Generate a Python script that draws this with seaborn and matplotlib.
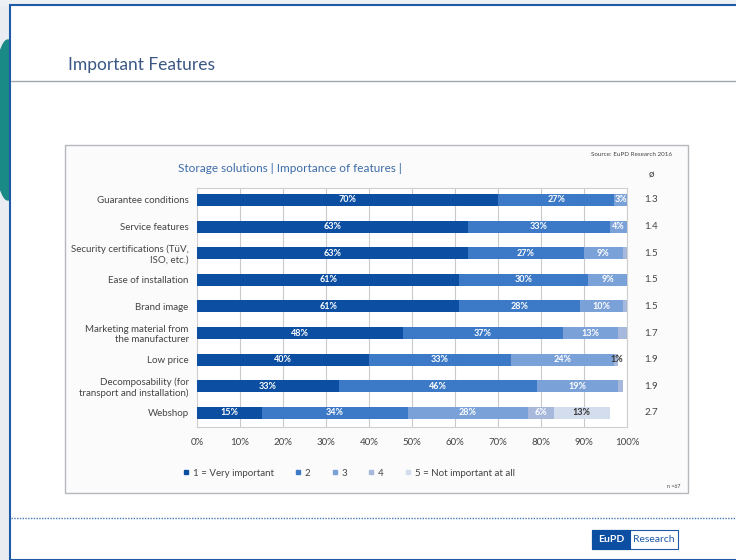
import pandas as pd
import matplotlib.pyplot as plt
import matplotlib.patches as mpatches
from matplotlib.lines import Line2D
from matplotlib.transforms import blended_transform_factory
import seaborn as sns

# data (share of answers per importance level, %)
features = ['Guarantee conditions', 'Service features', 'Security certifications (TüV,\nISO, etc.)',
            'Ease of installation', 'Brand image', 'Marketing material from\nthe manufacturer',
            'Low price', 'Decomposability (for\ntransport and installation)', 'Webshop']
level1 = [70, 63, 63, 61, 61, 48, 40, 33, 15]
level2 = [27, 33, 27, 30, 28, 37, 33, 46, 34]
level3 = [3, 4, 9, 9, 10, 13, 24, 19, 28]
level4 = [0, 0, 1, 0, 1, 2, 1, 1, 6]
level5 = [0, 0, 0, 0, 0, 0, 0, 0, 13]
averages = ['1.3', '1.4', '1.5', '1.5', '1.5', '1.7', '1.9', '1.9', '2.7']
level_names = ['1 = Very important', '2', '3', '4', '5 = Not important at all']
ticks = [0, 10, 20, 30, 40, 50, 60, 70, 80, 90, 100]
show_small = ['Low price']

colors = ['#0b4ea2', '#3c79c6', '#7aa2d9', '#a6b9dc', '#d4dded']
levels = [level1, level2, level3, level4, level5]

sns.set_theme(style='white')
plt.rcParams['font.family'] = ['Lato', 'DejaVu Sans']

fig = plt.figure(figsize=(7.36, 5.6), dpi=100)
W, H = 736, 560


def fx(px):
    return px / W


def fy(py):
    return 1 - py / H


# slide background bits
fig.patches.append(mpatches.Rectangle((0, 0), fx(10), 1, transform=fig.transFigure,
                                      color='#e9edf1', zorder=0))
fig.patches.append(mpatches.Rectangle((0, fy(5)), 1, fy(0) - fy(5), transform=fig.transFigure,
                                      color='#eef1f4', zorder=0))
fig.patches.append(mpatches.Ellipse((fx(8), fy(120)), fx(30), fy(40) - fy(200), transform=fig.transFigure,
                                    color='#1a8a86', zorder=0))
fig.patches.append(mpatches.Rectangle((fx(10), 0), 1, fy(5), transform=fig.transFigure,
                                      facecolor='white', edgecolor='#1f5aa6', lw=1.5, zorder=1))

# slide title and rules
fig.text(fx(68), fy(65), 'Important Features', fontsize=12.5, color='#3a5784',
         family=['Liberation Sans Narrow', 'Lato'], va='center', zorder=3)
fig.add_artist(Line2D([fx(11), 1], [fy(81), fy(81)], color='#a0a6ad', lw=1, zorder=3))
fig.add_artist(Line2D([fx(11), 1], [fy(518), fy(518)], color='#4a78b8', lw=1, ls=(0, (1, 1)), zorder=3))

# chart panel
fig.patches.append(mpatches.Rectangle((fx(65), fy(493)), fx(688) - fx(65), fy(145) - fy(493),
                                      transform=fig.transFigure, facecolor='#fbfbfc',
                                      edgecolor='#b5b8bc', lw=1, zorder=2))

# logo
fig.patches.append(mpatches.Rectangle((fx(592), fy(549)), fx(86), fy(530) - fy(549), transform=fig.transFigure,
                                      facecolor='white', edgecolor='#1f5aa6', lw=0.8, zorder=3))
fig.patches.append(mpatches.Rectangle((fx(592), fy(549)), fx(38), fy(530) - fy(549), transform=fig.transFigure,
                                      facecolor='#0b4ea2', edgecolor='#0b4ea2', lw=0.8, zorder=3))
fig.text(fx(611), fy(539.5), 'EuPD', fontsize=7.5, color='white', weight='bold', ha='center', va='center',
         family=['Liberation Sans Narrow', 'Lato'], zorder=4)
fig.text(fx(654), fy(539.5), 'Research', fontsize=7.5, color='#1f5aa6', ha='center', va='center',
         family=['Liberation Sans Narrow', 'Lato'], zorder=4)

# stacked bar chart
ax = fig.add_axes([fx(197), fy(427), fx(627) - fx(197), fy(188) - fy(427)], zorder=5)
ax.set_facecolor('white')

rows = []
for i, f in enumerate(features):
    cum = 0
    for k in range(5):
        cum += levels[k][i]
        rows.append({'feature': f, 'level': k, 'cum': cum, 'value': levels[k][i]})
df = pd.DataFrame(rows)

for k in reversed(range(5)):
    sub = df[df['level'] == k]
    sns.barplot(data=sub, x='cum', y='feature', order=features, color=colors[k],
                orient='h', width=0.45, saturation=1, linewidth=0, edgecolor='none', ax=ax, zorder=3)

for _, r in df.iterrows():
    v = r['value']
    if v >= 3 or (v > 0 and r['feature'] in show_small):
        dark = r['level'] == 4 or v < 2
        ax.text(r['cum'] - v / 2, features.index(r['feature']), f'{v}%', ha='center', va='center',
                fontsize=6.5, weight='bold', color='#333333' if dark else 'white', zorder=6)

ax.set_xlim(0, 100)
ax.set_ylim(8.53, -0.45)
ax.set_xticks(ticks)
ax.set_xticklabels([f'{t}%' for t in ticks])
ax.grid(axis='x', color='#c9c9c9', lw=0.8, zorder=0)
ax.set_axisbelow(True)
ax.tick_params(axis='both', length=0, labelsize=7, colors='#444444')
ax.tick_params(axis='x', pad=8)
ax.tick_params(axis='y', pad=6)
ax.set_xlabel('')
ax.set_ylabel('')
for s in ax.spines.values():
    s.set_color('#cfcfcf')
    s.set_linewidth(0.8)

# average column
tr = blended_transform_factory(fig.transFigure, ax.transData)
for i, a in enumerate(averages):
    ax.text(fx(651), i, a, transform=tr, ha='center', va='center', fontsize=7, color='#444444', clip_on=False)
fig.text(fx(651), fy(175), 'ø', ha='center', va='center', fontsize=7, color='#444444', zorder=6)

# titles and notes
fig.text(fx(178), fy(168), 'Storage solutions | Importance of features |', fontsize=8.5, color='#3d6ca8',
         va='center', zorder=6)
fig.text(fx(672), fy(155), 'Source: EuPD Research 2016', fontsize=4.5, color='#444444',
         ha='right', va='center', zorder=6)
fig.text(fx(680), fy(487), 'n =67', fontsize=3.8, color='#444444', ha='right', va='center', zorder=6)

handles = [Line2D([0], [0], marker='s', color='none', markerfacecolor=c, markeredgecolor=c, markersize=3.5)
           for c in colors]
fig.legend(handles, level_names, loc='center', bbox_to_anchor=(fx(349), fy(473)), ncol=5, frameon=False,
           fontsize=7, handlelength=0.6, handletextpad=0.4, columnspacing=2.2, labelcolor='#444444')

fig.savefig('out.png', dpi=100)
